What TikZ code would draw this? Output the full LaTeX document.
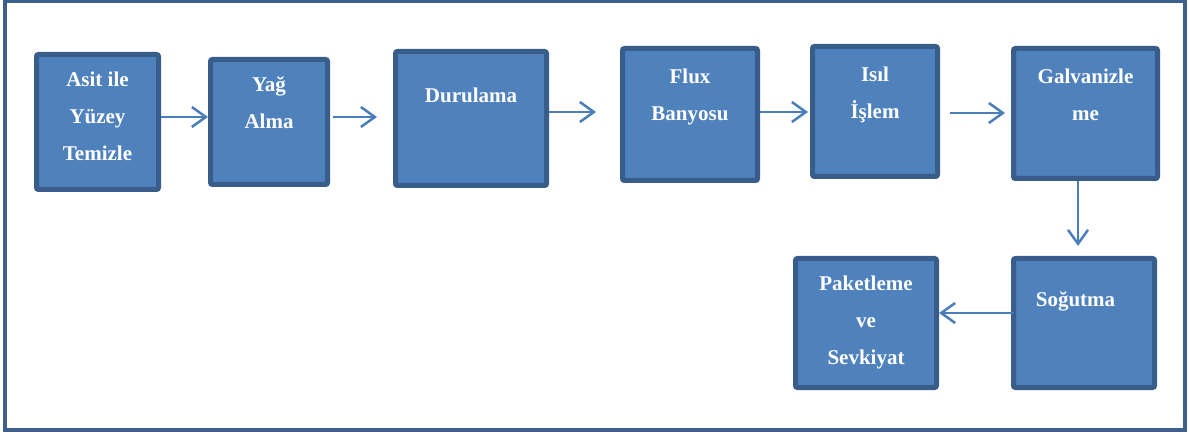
\documentclass[tikz,border=0pt]{standalone}
\usepackage{fontspec}
\setmainfont{Liberation Serif}
\usetikzlibrary{arrows.meta,positioning}
\definecolor{stagefill}{HTML}{4F81BD}
\definecolor{stageedge}{HTML}{385D8A}
\definecolor{flowline}{HTML}{4A7EBB}
\definecolor{frameline}{HTML}{3C5F8E}

\begin{document}
\begin{tikzpicture}[
  x=1pt, y=-1pt,
  stage/.style={rectangle, draw=stageedge, fill=stagefill, line width=5pt,
                rounded corners=2pt, inner sep=0pt},
  stagetext/.style={text=white, font=\fontsize{21}{37}\selectfont\bfseries,
                    align=center, inner sep=0pt},
  flow/.style={-{Straight Barb[length=14pt,width=20pt]}, line width=2.5pt, flowline}
]
  \useasboundingbox (0,0) rectangle (1190,435);
  \draw[frameline, line width=4pt] (5,1.5) rectangle (1185,429.5);

  % upper row
  \node[stage, minimum width=122pt, minimum height=135pt] (acid)     at (97.5,122)  {};
  \node[stage, minimum width=117pt, minimum height=125pt] (degrease) at (269,122)   {};
  \node[stage, minimum width=151pt, minimum height=134pt] (rinse)    at (471,118.5) {};
  \node[stage, minimum width=135pt, minimum height=132pt] (flux)     at (690,114.5) {};
  \node[stage, minimum width=125pt, minimum height=130pt] (heat)     at (875,111.5) {};
  \node[stage, minimum width=144pt, minimum height=130pt] (galv)     at (1085.5,113.5) {};
  % lower row
  \node[stage, minimum width=141pt, minimum height=129pt] (cool)     at (1084,323)  {};
  \node[stage, minimum width=141pt, minimum height=129pt] (pack)     at (866,323)   {};

  \node[stagetext, below=20pt of acid.north]     (acidtext)  {Asit ile\\Yüzey\\Temizle};
  \node[stagetext, below=20pt of degrease.north] (degtext)   {Yağ\\Alma};
  \node[stagetext, below=39pt of rinse.north]    (rinsetext) {Durulama};
  \node[stagetext, below=23pt of flux.north]     (fluxtext)  {Flux\\Banyosu};
  \node[stagetext, below=23pt of heat.north]     (heattext)  {Isıl\\İşlem};
  \node[stagetext, below=23pt of galv.north]     (galvtext)  {Galvanizle\\me};
  \node[stagetext, below=36pt of cool.north, xshift=-8.5pt] (cooltext) {Soğutma};
  \node[stagetext, below=20pt of pack.north]     (packtext)  {Paketleme\\ve\\Sevkiyat};

  \draw[flow] ([yshift=5pt]acid.east) -- ([yshift=5pt]degrease.west);
  \draw[flow] ([xshift=3pt,yshift=5pt]degrease.east) -- ([xshift=-16pt,yshift=1.5pt]rinse.west);
  \draw[flow] ([yshift=6.5pt]rinse.east) -- ([xshift=-24pt,yshift=2.5pt]flux.west);
  \draw[flow] ([yshift=2.5pt]flux.east) -- ([xshift=-2pt,yshift=-0.5pt]heat.west);
  \draw[flow] ([xshift=10pt,yshift=-1.5pt]heat.east) -- ([xshift=-6pt,yshift=0.5pt]galv.west);
  \draw[flow] ([xshift=-7.5pt]galv.south) -- ([xshift=-6pt,yshift=10pt]cool.north);
  \draw[flow] ([xshift=3pt,yshift=10pt]cool.west) -- ([yshift=10pt]pack.east);
\end{tikzpicture}
\end{document}
